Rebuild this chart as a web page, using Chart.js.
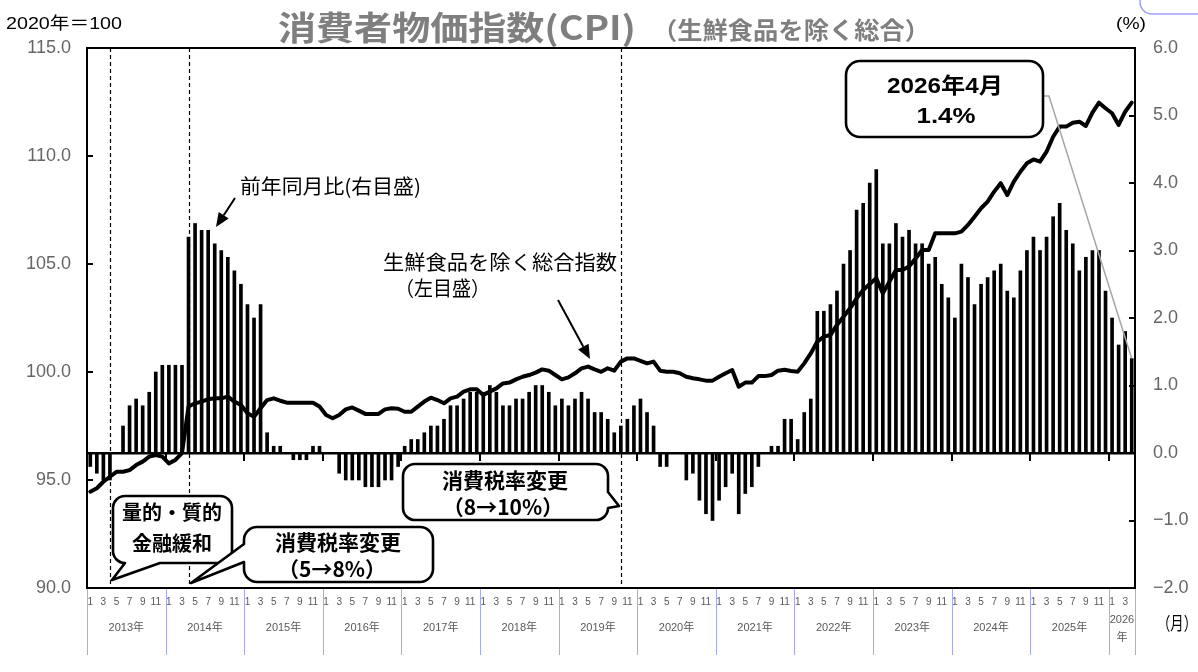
<!DOCTYPE html>
<html lang="ja">
<head>
<meta charset="utf-8">
<title>消費者物価指数(CPI)（生鮮食品を除く総合）</title>
<script src="https://cdn.jsdelivr.net/npm/chart.js@4.4.1/dist/chart.umd.min.js"></script>
<style>
  html, body { margin: 0; padding: 0; background: #fff; }
  #wrap { width: 1198px; height: 672px; position: relative; }
</style>
</head>
<body>
<div id="wrap"><canvas id="cpiChart" width="1198" height="672"></canvas></div>
<script>
// ============================================
// DATA
// ============================================

// years on the axis (2026 runs to April)
const years = [2013, 2014, 2015, 2016, 2017, 2018, 2019, 2020, 2021, 2022, 2023, 2024, 2025, 2026];
const lastMonthOfFinalYear = 4;

// x tick labels: only odd months are written
const monthTickLabels = ['1', '3', '5', '7', '9', '11'];

// 前年同月比 (%, right axis)
const yoyChange = [
  -0.2, -0.3, -0.4, -0.4, 0.0, 0.4, 0.7, 0.8, 0.7, 0.9, 1.2, 1.3,      // 2013
  1.3, 1.3, 1.3, 3.2, 3.4, 3.3, 3.3, 3.1, 3.0, 2.9, 2.7, 2.5,          // 2014
  2.2, 2.0, 2.2, 0.3, 0.1, 0.1, 0.0, -0.1, -0.1, -0.1, 0.1, 0.1,       // 2015
  0.0, 0.0, -0.3, -0.4, -0.4, -0.4, -0.5, -0.5, -0.5, -0.4, -0.4, -0.2, // 2016
  0.1, 0.2, 0.2, 0.3, 0.4, 0.4, 0.5, 0.7, 0.7, 0.8, 0.9, 0.9,          // 2017
  0.9, 1.0, 0.9, 0.7, 0.7, 0.8, 0.8, 0.9, 1.0, 1.0, 0.9, 0.7,          // 2018
  0.8, 0.7, 0.8, 0.9, 0.8, 0.6, 0.6, 0.5, 0.3, 0.4, 0.5, 0.7,          // 2019
  0.8, 0.6, 0.4, -0.2, -0.2, 0.0, 0.0, -0.4, -0.3, -0.7, -0.9, -1.0,   // 2020
  -0.7, -0.5, -0.3, -0.9, -0.6, -0.5, -0.2, 0.0, 0.1, 0.1, 0.5, 0.5,   // 2021
  0.2, 0.6, 0.8, 2.1, 2.1, 2.2, 2.4, 2.8, 3.0, 3.6, 3.7, 4.0,          // 2022
  4.2, 3.1, 3.1, 3.4, 3.2, 3.3, 3.1, 3.1, 2.8, 2.9, 2.5, 2.3,          // 2023
  2.0, 2.8, 2.6, 2.2, 2.5, 2.6, 2.7, 2.8, 2.4, 2.3, 2.7, 3.0,          // 2024
  3.2, 3.0, 3.2, 3.5, 3.7, 3.3, 3.1, 2.7, 2.9, 3.0, 3.0, 2.4,          // 2025
  2.0, 1.6, 1.8, 1.4                                                   // 2026
];

// 生鮮食品を除く総合指数 (2020年=100, left axis)
const coreIndex = [
  94.46, 94.62, 94.92, 95.15, 95.38, 95.38, 95.46, 95.69, 95.85, 96.08, 96.16, 96.08,       // 2013
  95.77, 95.93, 96.24, 98.40, 98.55, 98.63, 98.74, 98.78, 98.78, 98.86, 98.63, 98.47,       // 2014
  98.09, 97.93, 98.32, 98.70, 98.78, 98.67, 98.58, 98.58, 98.58, 98.58, 98.58, 98.40,       // 2015
  98.01, 97.86, 98.01, 98.27, 98.36, 98.21, 98.06, 98.06, 98.06, 98.27, 98.32, 98.30,       // 2016
  98.16, 98.16, 98.40, 98.63, 98.81, 98.70, 98.55, 98.78, 98.86, 99.09, 99.20, 99.20,       // 2017
  98.94, 99.09, 99.24, 99.47, 99.51, 99.66, 99.78, 99.86, 99.97, 100.12, 100.06, 99.86,     // 2018
  99.66, 99.75, 99.94, 100.17, 100.25, 100.12, 100.01, 100.17, 100.06, 100.48, 100.63, 100.63, // 2019
  100.52, 100.40, 100.48, 100.06, 100.01, 100.01, 99.94, 99.78, 99.71, 99.66, 99.60, 99.60, // 2020
  99.78, 99.94, 100.09, 99.32, 99.51, 99.51, 99.81, 99.81, 99.86, 100.06, 100.10, 100.05,   // 2021
  100.01, 100.40, 100.86, 101.41, 101.64, 101.71, 102.18, 102.56, 102.95, 103.41, 103.80, 104.07, // 2022
  104.34, 103.64, 104.18, 104.72, 104.72, 104.88, 105.26, 105.65, 105.65, 106.42, 106.42, 106.42, // 2023
  106.42, 106.50, 106.81, 107.19, 107.58, 107.89, 108.35, 108.74, 108.19, 108.81, 109.27, 109.66, // 2024
  109.84, 109.74, 110.20, 110.89, 111.36, 111.36, 111.54, 111.59, 111.39, 112.01, 112.47, 112.21, // 2025
  111.98, 111.44, 112.05, 112.47                                                                // 2026
];

// axis ranges / steps
const leftAxis = { min: 90, max: 115, step: 5 };
const rightAxis = { min: -2, max: 6, step: 1 };

// dashed event lines: 量的・質的金融緩和, 消費税率 5→8%, 8→10%
const eventMonths = ['2013-04', '2014-04', '2019-10'];

// -----------------------------
// Category labels (YYYY-MM)
// -----------------------------
const monthLabels = [];
years.forEach(y => {
    const n = y === years[years.length - 1] ? lastMonthOfFinalYear : 12;
    for (let m = 1; m <= n; m++) monthLabels.push(`${y}-${String(m).padStart(2, '0')}`);
});

// -----------------------------
// Small drawing helpers
// -----------------------------
const CJK = "'Noto Sans CJK JP', 'Noto Sans', sans-serif";
const MIX = "'Liberation Sans', 'Noto Sans CJK JP', sans-serif";

function drawText(ctx, str, x, y, font, color, align, fitWidth) {
    ctx.save();
    ctx.font = font;
    ctx.fillStyle = color;
    ctx.textBaseline = 'middle';
    ctx.textAlign = align || 'left';
    let sx = 1;
    if (fitWidth) sx = fitWidth / ctx.measureText(str).width;
    ctx.translate(x, y);
    ctx.scale(sx, 1);
    ctx.fillText(str, 0, 0);
    ctx.restore();
}

function arrow(ctx, x1, y1, x2, y2) {
    const ang = Math.atan2(y2 - y1, x2 - x1);
    const len = 14, half = 6;
    const bx = x2 - Math.cos(ang) * len, by = y2 - Math.sin(ang) * len;
    ctx.save();
    ctx.strokeStyle = '#000';
    ctx.fillStyle = '#000';
    ctx.lineWidth = 2;
    ctx.beginPath();
    ctx.moveTo(x1, y1);
    ctx.lineTo(bx, by);
    ctx.stroke();
    ctx.beginPath();
    ctx.moveTo(x2, y2);
    ctx.lineTo(bx + Math.sin(ang) * half, by - Math.cos(ang) * half);
    ctx.lineTo(bx - Math.sin(ang) * half, by + Math.cos(ang) * half);
    ctx.closePath();
    ctx.fill();
    ctx.restore();
}

// rounded speech bubble, optional tail on one side
function bubble(ctx, b, tail) {
    const { x, y, w, h, r } = b;
    ctx.save();
    ctx.beginPath();
    ctx.moveTo(x + r, y);
    ctx.lineTo(x + w - r, y);
    ctx.arcTo(x + w, y, x + w, y + r, r);
    if (tail && tail.side === 'right') { ctx.lineTo(x + w, tail.a); ctx.lineTo(tail.tx, tail.ty); ctx.lineTo(x + w, tail.b); }
    ctx.lineTo(x + w, y + h - r);
    ctx.arcTo(x + w, y + h, x + w - r, y + h, r);
    if (tail && tail.side === 'bottom') { ctx.lineTo(tail.b, y + h); ctx.lineTo(tail.tx, tail.ty); ctx.lineTo(tail.a, y + h); }
    ctx.lineTo(x + r, y + h);
    ctx.arcTo(x, y + h, x, y + h - r, r);
    if (tail && tail.side === 'left') { ctx.lineTo(x, tail.b); ctx.lineTo(tail.tx, tail.ty); ctx.lineTo(x, tail.a); }
    ctx.lineTo(x, y + r);
    ctx.arcTo(x, y, x + r, y, r);
    ctx.closePath();
    ctx.fillStyle = '#fff';
    ctx.fill();
    ctx.lineWidth = 2.6;
    ctx.lineJoin = 'round';
    ctx.strokeStyle = '#000';
    ctx.stroke();
    ctx.restore();
}

// -----------------------------
// Decoration plugin
// -----------------------------
const decor = {
    id: 'decor',
    beforeDatasetsDraw(chart) {
        const { ctx, chartArea: a, scales: { x } } = chart;
        ctx.save();
        ctx.strokeStyle = '#000';
        ctx.lineWidth = 1.2;
        ctx.setLineDash([4, 3]);
        eventMonths.forEach(m => {
            const px = Math.round(x.getPixelForValue(monthLabels.indexOf(m))) + 0.5;
            ctx.beginPath();
            ctx.moveTo(px, a.top);
            ctx.lineTo(px, a.bottom);
            ctx.stroke();
        });
        ctx.restore();
    },
    afterDatasetsDraw(chart) {
        const { ctx, chartArea: a, scales: { x, y, y1 } } = chart;
        const step = x.getPixelForValue(1) - x.getPixelForValue(0);
        ctx.save();
        ctx.strokeStyle = '#000';
        ctx.lineWidth = 2;

        // inward ticks on both value axes
        for (let v = leftAxis.min + leftAxis.step; v < leftAxis.max; v += leftAxis.step) {
            const py = Math.round(y.getPixelForValue(v));
            ctx.beginPath(); ctx.moveTo(a.left, py); ctx.lineTo(a.left + 6, py); ctx.stroke();
        }
        for (let v = rightAxis.min + rightAxis.step; v < rightAxis.max; v += rightAxis.step) {
            const py = Math.round(y1.getPixelForValue(v));
            ctx.beginPath(); ctx.moveTo(a.right - 6, py); ctx.lineTo(a.right, py); ctx.stroke();
        }

        // year ticks hanging under the zero line
        const zy = y1.getPixelForValue(0);
        monthLabels.forEach((lab, i) => {
            if (i > 0 && lab.endsWith('-01')) {
                const px = Math.round(x.getPixelForValue(i) - step / 2);
                ctx.beginPath(); ctx.moveTo(px, zy); ctx.lineTo(px, zy + 8); ctx.stroke();
            }
        });

        // frame
        ctx.lineWidth = 2;
        ctx.strokeRect(a.left, a.top, a.right - a.left, a.bottom - a.top);
        ctx.restore();
    },
    afterDraw(chart) {
        const { ctx, chartArea: a, scales: { x, y1 } } = chart;
        const step = x.getPixelForValue(1) - x.getPixelForValue(0);

        // year separators and year labels under the month numbers
        ctx.save();
        ctx.strokeStyle = '#a9a9f2';
        ctx.lineWidth = 1;
        let start = 0;
        years.forEach((yr, k) => {
            const n = k === years.length - 1 ? lastMonthOfFinalYear : 12;
            const x0 = x.getPixelForValue(start) - step / 2;
            const x1 = x.getPixelForValue(start + n - 1) + step / 2;
            [x0, x1].forEach(px => {
                ctx.beginPath(); ctx.moveTo(Math.round(px) + 0.5, a.bottom + 1); ctx.lineTo(Math.round(px) + 0.5, a.bottom + 67); ctx.stroke();
            });
            const cx = (x0 + x1) / 2;
            if (n === 12) {
                drawText(ctx, yr + '年', cx, a.bottom + 40, '11px ' + MIX, '#595959', 'center');
            } else {
                drawText(ctx, String(yr), cx, a.bottom + 32, '11px ' + MIX, '#595959', 'center');
                drawText(ctx, '年', cx, a.bottom + 50, '11px ' + MIX, '#595959', 'center');
            }
            start += n;
        });
        ctx.restore();

        drawText(ctx, '（月）', 1157, 623, '18px ' + CJK, '#000', 'left', 40);

        // header texts
        drawText(ctx, '2020年＝100', 6, 24, '17px ' + MIX, '#000', 'left', 116);
        drawText(ctx, '消費者物価指数(CPI)', 278, 27, 'bold 33px ' + CJK, '#7f7f7f', 'left', 358);
        drawText(ctx, '（生鮮食品を除く総合）', 652, 30, 'bold 24px ' + CJK, '#7f7f7f', 'left', 278);
        drawText(ctx, '(%)', 1116, 24, '17px ' + MIX, '#000', 'left', 30);

        // bit of a neighbouring frame at the top right corner
        ctx.save();
        ctx.strokeStyle = '#a0a0ff';
        ctx.lineWidth = 1.5;
        ctx.beginPath();
        ctx.roundRect(1140, -30, 100, 44, 12);
        ctx.stroke();
        ctx.restore();

        // series captions and arrows
        drawText(ctx, '前年同月比(右目盛)', 240, 186, '20px ' + CJK, '#000', 'left', 181);
        arrow(ctx, 235, 198, 216, 227);
        drawText(ctx, '生鮮食品を除く総合指数', 383, 262, '20px ' + CJK, '#000', 'left', 234);
        drawText(ctx, '（左目盛）', 395, 288, '20px ' + CJK, '#000', 'left', 95);
        arrow(ctx, 558, 300, 590, 359);

        // call-outs
        bubble(ctx, { x: 113, y: 496, w: 119, h: 67, r: 12 }, { side: 'bottom', a: 125, b: 160, tx: 112, ty: 580 });
        drawText(ctx, '量的・質的', 172, 512, 'bold 20px ' + CJK, '#000', 'center');
        drawText(ctx, '金融緩和', 172, 543, 'bold 20px ' + CJK, '#000', 'center');

        bubble(ctx, { x: 244, y: 527, w: 189, h: 55, r: 13 }, { side: 'left', a: 544, b: 562, tx: 191, ty: 583 });
        drawText(ctx, '消費税率変更', 338, 542, 'bold 21px ' + CJK, '#000', 'center');
        drawText(ctx, '（5→8%）', 332, 569, 'bold 21px ' + CJK, '#000', 'center');

        bubble(ctx, { x: 403, y: 464, w: 205, h: 56, r: 12 }, { side: 'right', a: 492, b: 508, tx: 619, ty: 506 });
        drawText(ctx, '消費税率変更', 505, 480, 'bold 21px ' + CJK, '#000', 'center');
        drawText(ctx, '（8→10%）', 503, 507, 'bold 21px ' + CJK, '#000', 'center');

        // latest value box with a leader to the last bar
        const last = yoyChange.length - 1;
        const lx = x.getPixelForValue(last), ly = y1.getPixelForValue(yoyChange[last]);
        ctx.save();
        ctx.strokeStyle = '#a6a6a6';
        ctx.lineWidth = 1.5;
        ctx.beginPath();
        ctx.moveTo(1043, 96);
        ctx.lineTo(1049, 96);
        ctx.lineTo(lx, ly);
        ctx.stroke();
        ctx.restore();
        bubble(ctx, { x: 846, y: 61, w: 197, h: 76, r: 14 }, null);
        drawText(ctx, `${years[years.length - 1]}年${lastMonthOfFinalYear}月`, 945, 87, 'bold 22px ' + MIX, '#000', 'center', 116);
        drawText(ctx, `${yoyChange[last].toFixed(1)}%`, 946, 117, 'bold 22px ' + MIX, '#000', 'center', 59);
    }
};

// -----------------------------
// Chart
// -----------------------------
Chart.defaults.font.family = "'Liberation Sans', Arial, sans-serif";

const ctx = document.getElementById('cpiChart').getContext('2d');
const cpiChart = new Chart(ctx, {
    type: 'bar',
    data: {
        labels: monthLabels,
        datasets: [
            {
                type: 'line',
                label: '生鮮食品を除く総合指数（左目盛）',
                data: coreIndex,
                yAxisID: 'y',
                borderColor: '#000',
                borderWidth: 4,
                borderJoinStyle: 'round',
                borderCapStyle: 'round',
                pointRadius: 0,
                tension: 0,
                order: 0
            },
            {
                type: 'bar',
                label: '前年同月比（右目盛）',
                data: yoyChange,
                yAxisID: 'y1',
                backgroundColor: '#000',
                barThickness: 3,
                order: 1
            }
        ]
    },
    options: {
        responsive: false,
        animation: false,
        devicePixelRatio: 1,
        layout: { padding: { top: 48, left: 0, right: 0, bottom: 0 } },
        plugins: { legend: { display: false }, tooltip: { enabled: false } },
        scales: {
            x: {
                type: 'category',
                offset: true,
                grid: { display: false, drawTicks: false },
                border: { display: false },
                ticks: {
                    autoSkip: false,
                    maxRotation: 0,
                    minRotation: 0,
                    padding: 8,
                    color: '#595959',
                    font: { size: 10 },
                    callback(v, i) {
                        const m = String(Number(monthLabels[i].slice(5)));
                        return monthTickLabels.includes(m) ? m : '';
                    }
                },
                afterFit(s) { s.height = 84; }
            },
            y: {
                position: 'left',
                min: leftAxis.min,
                max: leftAxis.max,
                grid: { display: false, drawTicks: false },
                border: { display: false },
                ticks: {
                    stepSize: leftAxis.step,
                    padding: 16,
                    color: '#666666',
                    font: { size: 18 },
                    callback: v => v.toFixed(1)
                },
                afterFit(s) { s.width = 87; }
            },
            y1: {
                position: 'right',
                min: rightAxis.min,
                max: rightAxis.max,
                grid: {
                    drawTicks: false,
                    color: c => (c.tick && c.tick.value === 0 ? '#000' : 'rgba(0,0,0,0)'),
                    lineWidth: 2.6
                },
                border: { display: false },
                ticks: {
                    stepSize: rightAxis.step,
                    padding: 18,
                    color: '#666666',
                    font: { size: 18 },
                    callback: v => (v < 0 ? '\u2212' : '') + Math.abs(v).toFixed(1)
                },
                afterFit(s) { s.width = 63; }
            }
        }
    },
    plugins: [decor]
});
</script>
</body>
</html>
